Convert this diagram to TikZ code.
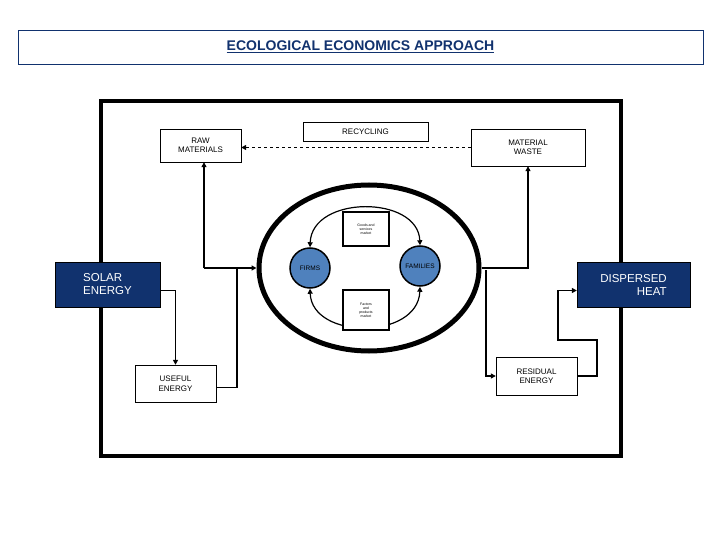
\documentclass[tikz,border=0pt]{standalone}
\usepackage{fontspec}
\setmainfont{Liberation Sans}
\usetikzlibrary{arrows.meta,shapes.geometric}
\definecolor{navy}{RGB}{17,50,110}
\definecolor{agent}{RGB}{79,129,189}
\tikzset{
  box/.style={draw,align=center,font=\fontsize{8}{9.5}\selectfont,inner sep=1pt},
  energy/.style={draw,fill=navy,text=white,align=left,font=\fontsize{11.5}{13}\selectfont,inner sep=2pt},
  agent/.style={draw,circle,fill=agent,line width=1.5pt,minimum size=40pt,inner sep=0pt,font=\fontsize{6.5}{7}\selectfont},
  market/.style={draw,fill=white,line width=1.5pt,align=center,font=\fontsize{3.5}{4}\selectfont},
  flow/.style={line width=1.2pt,-{Triangle[length=5pt,width=5pt]}},
  both/.style={line width=1.2pt,{Triangle[length=5pt,width=5pt]}-{Triangle[length=5pt,width=5pt]}},
}
\begin{document}
\begin{tikzpicture}[x=1pt,y=-1pt]
    \useasboundingbox (0,0) rectangle (720,540);
    \node[draw=navy,minimum width=685pt,minimum height=34pt] (title) at (360.5,47)
      {\color{navy}\fontsize{14}{16}\selectfont\bfseries\underline{ECOLOGICAL ECONOMICS APPROACH}};
    \draw[line width=4pt] (101,101) rectangle (621,456);

    \node[box,minimum width=81pt,minimum height=33pt] (raw) at (200.5,145.5) {RAW\\MATERIALS};
    \node[box,minimum width=125pt,minimum height=19pt] (recy) at (365.5,131.5) {RECYCLING};
    \node[box,minimum width=114pt,minimum height=37pt] (waste) at (528,147.5) {MATERIAL\\WASTE};
    \node[energy,minimum width=105pt,minimum height=45pt] (solar) at (107.5,284.5) {SOLAR\\ENERGY};
    \node[energy,minimum width=113pt,minimum height=45pt,align=right] (heat) at (633.5,284.5) {DISPERSED\\HEAT};
    \node[box,minimum width=81pt,minimum height=37pt] (useful) at (175.5,383.5) {USEFUL\\ENERGY};
    \node[box,minimum width=81pt,minimum height=38pt] (resid) at (536.5,376) {RESIDUAL\\ENERGY};

    \node[draw,ellipse,line width=5pt,minimum width=220pt,minimum height=166pt] (eco) at (369,268) {};
    \node[agent] (firms) at (310,268) {FIRMS};
    \node[agent] (fam) at (420,266) {FAMILIES};

    \draw[both] (firms.north) .. controls (312,195) and (418,195) .. (fam.north);
    \draw[both] (firms.south) .. controls (312,340) and (418,340) .. (fam.south);
    \node[market,minimum width=46pt,minimum height=34pt] (goods) at (366,229) {Goods and\\services\\market};
    \node[market,minimum width=46pt,minimum height=40pt] (factors) at (366,310) {Factors\\and\\products\\market};

    \draw[flow,dashed] (waste.west) -- (waste.west -| raw.east);
    \coordinate (jl) at (204,268);
    \coordinate (jm) at (237,268);
    \coordinate (jr) at (486,270);
    \draw[flow] (jl) -- (eco.west);
    \draw[flow] (jl) -- (jl |- raw.south);
    \draw[flow] ([yshift=-6pt]solar.east) -| (useful.north);
    \draw[line width=1.2pt] ([yshift=-4pt]useful.east) -| (jm);
    \draw[flow] (eco.east) -| (waste.south);
    \draw[flow] (jr) |- (resid.west);
    \draw[flow] (resid.east) -- (597,376) |- (558,340) |- ([yshift=-6pt]heat.west);
\end{tikzpicture}
\end{document}
